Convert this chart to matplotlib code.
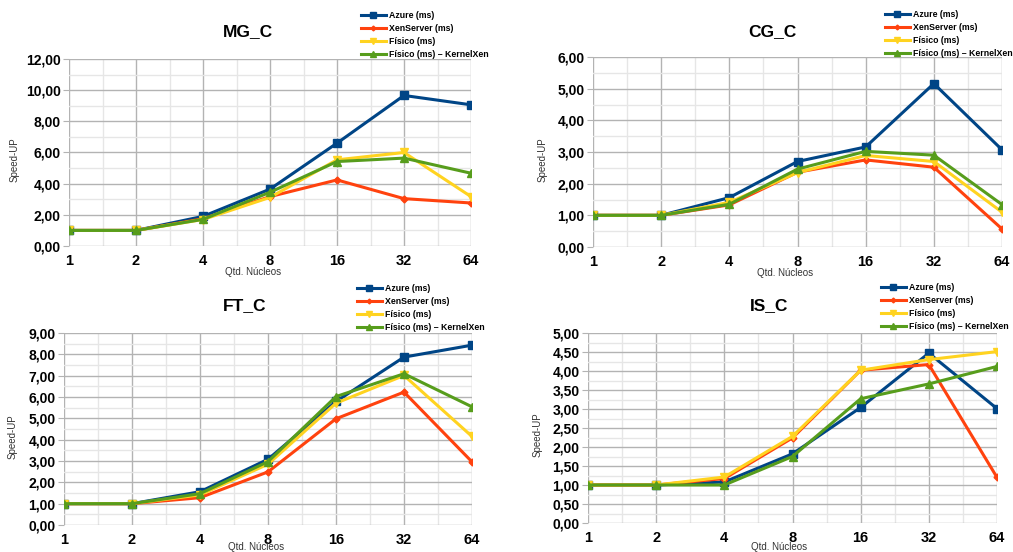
import numpy as np
import matplotlib.pyplot as plt
from matplotlib.ticker import FuncFormatter, MultipleLocator

plt.rcParams['font.family'] = ['Liberation Sans', 'DejaVu Sans']

nucleos = ['1', '2', '4', '8', '16', '32', '64']
series = ['Azure (ms)', 'XenServer (ms)', 'Físico (ms)', 'Físico (ms) – KernelXen']

mg_azure = [1.0, 1.0, 1.9, 3.65, 6.6, 9.66, 9.06]
mg_xen = [1.0, 1.0, 1.75, 3.17, 4.24, 3.04, 2.76]
mg_fisico = [1.0, 1.0, 1.7, 3.12, 5.53, 6.0, 3.17]
mg_kernel = [1.0, 1.0, 1.71, 3.45, 5.42, 5.64, 4.67]

cg_azure = [1.0, 1.0, 1.56, 2.7, 3.16, 5.16, 3.07]
cg_xen = [1.0, 1.0, 1.33, 2.36, 2.75, 2.52, 0.57]
cg_fisico = [1.0, 1.0, 1.41, 2.35, 2.89, 2.7, 1.1]
cg_kernel = [1.0, 1.0, 1.35, 2.46, 3.02, 2.9, 1.34]

ft_azure = [1.0, 1.0, 1.56, 3.08, 5.79, 7.87, 8.43]
ft_xen = [1.0, 1.0, 1.28, 2.49, 4.98, 6.23, 2.96]
ft_fisico = [1.0, 1.0, 1.41, 2.85, 5.71, 7.01, 4.15]
ft_kernel = [1.0, 1.0, 1.47, 2.97, 6.02, 7.09, 5.54]

is_azure = [1.0, 1.0, 1.08, 1.82, 3.04, 4.47, 3.01]
is_xen = [1.0, 1.0, 1.17, 2.24, 4.02, 4.17, 1.2]
is_fisico = [1.0, 1.0, 1.21, 2.28, 4.02, 4.3, 4.51]
is_kernel = [1.0, 1.0, 1.0, 1.75, 3.27, 3.66, 4.12]

colors = ['#004586', '#ff420e', '#ffd320', '#579d1c']
markers = ['s', 'D', 'v', '^']
msizes = [6, 3.5, 6, 6]

W, H = 1013, 552
fig = plt.figure(figsize=(W / 100, H / 100), dpi=100)

# title, (left, right, top, bottom) px, ymax, ystep, title pos, legend pos, xlabel pos, ylabel pos
panels = [
    ('MG_C', (69, 471, 59, 246), 12, 2, (248, 32), (361, 11), (253, 272), (15, 160),
     [mg_azure, mg_xen, mg_fisico, mg_kernel]),
    ('CG_C', (593, 1002, 57, 247), 6, 1, (772, 32), (885, 10), (785, 273), (543, 160),
     [cg_azure, cg_xen, cg_fisico, cg_kernel]),
    ('FT_C', (64, 472, 333, 525), 9, 1, (245, 306), (357, 284), (256, 547), (13, 437),
     [ft_azure, ft_xen, ft_fisico, ft_kernel]),
    ('IS_C', (588, 997, 333, 523), 5, 0.5, (769, 306), (881, 283), (779, 547), (538, 435),
     [is_azure, is_xen, is_fisico, is_kernel]),
]

fmt = FuncFormatter(lambda v, p: ('%.2f' % v).replace('.', ','))
x = np.arange(len(nucleos))

for title, (l, r, t, b), ymax, ystep, tpos, lpos, xlpos, ylpos, data in panels:
    ax = fig.add_axes([l / W, 1 - b / H, (r - l) / W, (b - t) / H])
    for vals, name, c, m, ms in zip(data, series, colors, markers, msizes):
        ax.plot(x, vals, color=c, marker=m, markersize=ms, lw=2.2, label=name)
    ax.set_xlim(0, 6)
    ax.set_ylim(0, ymax)
    ax.set_xticks(x)
    ax.set_xticklabels(nucleos)
    ax.xaxis.set_minor_locator(MultipleLocator(0.5))
    ax.yaxis.set_major_locator(MultipleLocator(ystep))
    ax.yaxis.set_minor_locator(MultipleLocator(ystep / 2))
    ax.yaxis.set_major_formatter(fmt)
    ax.grid(which='major', color='#b3b3b3', lw=1)
    ax.grid(which='minor', color='#e6e6e6', lw=1)
    ax.set_axisbelow(True)
    for s in ax.spines.values():
        s.set_visible(False)
    ax.tick_params(which='major', length=4, color='#b3b3b3', pad=2, labelsize=10)
    ax.tick_params(axis='x', which='major', length=0, pad=6, labelsize=10.5)
    ax.tick_params(which='minor', length=0)
    for lab in ax.get_xticklabels() + ax.get_yticklabels():
        lab.set_fontweight('bold')
    fig.text(tpos[0] / W, 1 - tpos[1] / H, title, fontsize=12.5, fontweight='bold',
             ha='center', va='center')
    fig.text(xlpos[0] / W, 1 - xlpos[1] / H, 'Qtd. Núcleos', fontsize=7,
             color='#333333', ha='center', va='center')
    fig.text(ylpos[0] / W, 1 - ylpos[1] / H, 'Speed-UP', fontsize=7, rotation=90,
             color='#333333', ha='center', va='center')
    leg = ax.legend(loc='upper left', bbox_to_anchor=(lpos[0] / W, 1 - lpos[1] / H),
                    bbox_transform=fig.transFigure, frameon=False, fontsize=6.3,
                    handlelength=2.8, handletextpad=0.35, labelspacing=0.45,
                    borderpad=0, borderaxespad=0, markerscale=0.7)
    for txt in leg.get_texts():
        txt.set_fontweight('bold')

fig.savefig('out.png', dpi=100)
